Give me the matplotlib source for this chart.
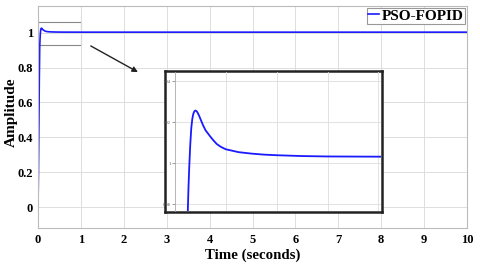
import matplotlib
matplotlib.use('Agg')
import matplotlib.pyplot as plt

# step response
time = [0, 0.01, 0.02, 0.03, 0.04, 0.05, 0.053, 0.056, 0.06, 0.064, 0.068, 0.072,
        0.076, 0.08, 0.085, 0.09, 0.095, 0.1, 0.11, 0.12, 0.137, 0.15, 0.164, 0.18,
        0.2, 0.25, 0.3, 0.35, 0.4, 0.5, 0.6, 0.8, 1, 2, 4, 6, 8, 10]
amplitude = [0, 0.18, 0.45, 0.72, 0.92, 0.975, 0.988, 0.998, 1.009, 1.017, 1.0215, 1.0240,
             1.0252, 1.0256, 1.0253, 1.0243, 1.0230, 1.0215, 1.0185, 1.016, 1.0132, 1.0112, 1.0093, 1.0079,
             1.0067, 1.0053, 1.0046, 1.0041, 1.0038, 1.0034, 1.0032, 1.0031, 1.003, 1.003, 1.003, 1.003, 1.003, 1.003]

x_ticks = [0, 1, 2, 3, 4, 5, 6, 7, 8, 9, 10]
y_ticks = [0, 0.2, 0.4, 0.6, 0.8, 1]
inset_y_ticks = [0.98, 1, 1.02, 1.04]
inset_y_labels = ['0.98', '1', '1.02', '1.04']
series_name = 'PSO-FOPID'

font = ['Liberation Serif', 'DejaVu Serif']
plt.rcParams['font.family'] = font

fig = plt.figure(figsize=(4.8, 2.72), dpi=100)
ax = fig.add_axes([38/480, 1 - 228/272, 429/480, 222/272])
ax.plot(time, amplitude, color='#1a1aff', lw=1.2, label=series_name)
ax.set_xlim(0, 10)
ax.set_ylim(-0.12, 1.153)
ax.set_xticks(x_ticks)
ax.set_yticks(y_ticks)
ax.set_xticklabels([str(t) for t in x_ticks], fontweight='bold', fontsize=9)
ax.set_yticklabels(['0', '0.2', '0.4', '0.6', '0.8', '1'], fontweight='bold', fontsize=9)
ax.tick_params(length=0, pad=4)
ax.tick_params(axis='y', pad=3.5)
ax.grid(True, color='#dddddd', lw=0.7)
for s in ax.spines.values():
    s.set_color('#bbbbbb')
    s.set_linewidth(0.8)
ax.set_xlabel('Time (seconds)', fontweight='bold', fontsize=10.7, labelpad=2)
ax.set_ylabel('Amplitude', fontweight='bold', fontsize=11)
ax.yaxis.set_label_coords(-0.047, 0.52)

leg = ax.legend(loc='upper right', prop={'weight': 'bold', 'size': 11},
                handlelength=0.7, handletextpad=0.2, borderpad=0.1, borderaxespad=0.1,
                fancybox=False, framealpha=1)
leg.get_frame().set_edgecolor('#999999')
leg.get_frame().set_linewidth(0.8)

# zoom rectangle and arrow
ax.add_patch(plt.Rectangle((0, 0.929), 1, 0.134, fill=False, edgecolor='#888888', lw=0.8))
ax.annotate('', xy=(2.33, 0.774), xytext=(1.23, 0.924),
            arrowprops=dict(arrowstyle='-|>', color='#222222', lw=1.0, mutation_scale=8,
                            shrinkA=0, shrinkB=0))

# inset frame
frame = fig.add_axes([165/480, 1 - 212/272, 217/480, 141/272])
frame.set_xticks([])
frame.set_yticks([])
frame.set_facecolor('white')
for s in frame.spines.values():
    s.set_color('#222222')
    s.set_linewidth(1.8)

ins = fig.add_axes([175/480, 1 - 211/272, 206/480, 139/272])
ins.plot(time, amplitude, color='#1a1aff', lw=1.3)
ins.set_xlim(0, 0.81)
ins.set_ylim(0.9766, 1.0444)
ins.set_yticks(inset_y_ticks)
ins.set_yticklabels(inset_y_labels, fontsize=3.3)
ins.set_xticks([0.2, 0.4, 0.6, 0.8])
ins.set_xticklabels([])
ins.tick_params(axis='y', length=2, width=0.4, pad=1, colors='#555555')
ins.tick_params(axis='x', length=0)
ins.grid(True, color='#dddddd', lw=0.6)
ins.patch.set_alpha(0)
for name, s in ins.spines.items():
    if name == 'left':
        s.set_color('#aaaaaa')
        s.set_linewidth(0.6)
    else:
        s.set_visible(False)

fig.savefig('out.png', dpi=100)
